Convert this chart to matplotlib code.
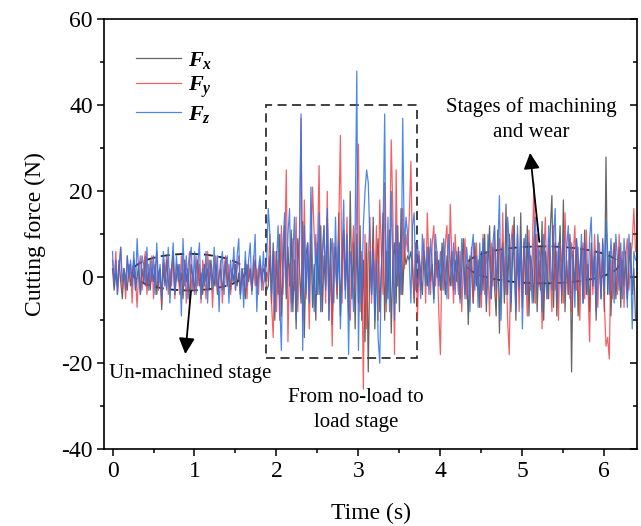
import numpy as np
import matplotlib as mpl
import matplotlib.pyplot as plt
from matplotlib.patches import Rectangle, Ellipse

mpl.use('agg')

plt.rcParams['font.family'] = ['Liberation Serif', 'DejaVu Serif']
plt.rcParams['mathtext.fontset'] = 'custom'
plt.rcParams['mathtext.it'] = 'Liberation Serif:italic:bold'
plt.rcParams['mathtext.rm'] = 'Liberation Serif:bold'
plt.rcParams['axes.unicode_minus'] = False

dt = 0.02

fx = [2, -3, 1, -2, 4, -1, -5, 2, 0, -3, 3, -2, 1, 4, -3, 0, 3, -4, 2, -1, 5, -2, 1, -3, 2,
      -1, 3, -4, 1, 2, -7.5, 3, -2, 4, -1, -3, 2, 5, -4, 0, 3, -2, 1, -5, 4, -1, 2, -6, 3, 0,
      -3, 2, 4, -2, 1, -4, 3, -1, 2, -3, 4, 0, -2, 3, -4, 1, 2, -3, 0, 4, -2, 1, -3, 2, -1,
      3, -2, 1, -4, 2, 0, -5, 3, -1, 2, -3, 1, 4, -2, 0, 3, -1, 2, 1, -3, -2, 5, -6, 8, -10,
      6, -4, 10, -9, 3, 12, -5, 7, -2, 11, -8, 4, -12, 9, 2, -6, 13, -14, 5, 8, -3, 10, -7, 3, -10,
      8, -4, 12, -8, 5, -2, 14, -6, 9, -11, 3, 7, -5, 15, -9, 4, 11, -3, 6, -8, 20, -5, 8, -12, 10,
      -6, 12, -10, 4, -15, 8, -22, 6, -4, 14, -12, 3, 9, -8, 2, 15, -10, 6, -5, 11, -13, 4, 8, -6, 12,
      -8, 16, -4, 6, 3, 5, 4, 6, 2, -6, 8, -3, 5, 1, -4, 6, 2, -2, 7, -1, 3, -5, 6, 0, 4,
      -3, 8, 2, -4, 5, 1, -2, 6, -3, 4, -1, 7, -5, 2, 9, -4, 3, -11, 5, 2, -6, 8, -2, 4, -7,
      6, -3, 10, -8, 3, 12, -5, 7, -2, -9, 11, -13, 4, 8, -6, 17, -4, 10, -8, 5, 14, -10, 6, -3, 15,
      -7, 9, -4, 12, -9, 5, 2, -6, 10, -8, 4, -3, 13, -10, 6, 1, -5, 11, 19, -7, 8, -9, 3, 12, -6,
      18, -8, 4, -4, 10, -22, 6, -3, 9, -9, 2, 7, -6, 11, -4, 3, -8, 8, -2, 5, -10, 6, 2, -5, 9,
      -8, 28, -4, 6, -9, 3, 8, -5, 2, 7, -7, 4, -2, 6, -5, 3, 8, -4, 2, -10]

fy = [4, -2, 6, -4, 1, 7, -3, 2, -5, 5, -1, 3, -6, 4, 0, -7, 2, 5, -3, 1, 6, -4, 3, -2, 5,
      -5, 2, 6, -3, 1, -6, 4, 0, 5, -4, 2, -2, 6, -5, 3, 1, -4, 5, -2, 4, -6, 2, 6, -3, 1,
      -4, 5, -2, 3, -6, 4, 1, -5, 6, -1, 3, -7, 2, 5, -3, 0, 4, -6, 2, 5, -2, 3, -4, 1, 4,
      -3, 2, 5, -4, 1, -2, 4, -5, 3, 0, -3, 5, -2, 2, -4, 4, 1, -3, 3, -1, 2, 10, -6, -14, 6,
      -8, 4, -10, 12, -4, 6, 25, -15, 3, -6, 9, -3, 14, -8, 5, 37, -10, 18, -5, 8, -12, 6, 21, 10, 3,
      6, 26, -8, 4, 12, -6, 20, -10, 3, -16, 8, 2, -4, 12, 33, -6, 10, -2, 14, -8, -10, 5, 12, -3, 18,
      31, -8, 6, -26, 10, -12, 4, 14, -6, 8, -3, 12, -10, 18, 6, -4, 22, -8, 6, 4, 32, 15, -18, 25, -2,
      8, -4, 16, 2, 10, 6, 14, 27, 4, -5, 8, -10, 6, -3, 4, 9, -6, 15, 3, -4, 8, 12, -2, 6, -8,
      -18, 6, -3, 8, 12, -5, 17, 4, -6, 10, 2, -4, 6, -8, 3, 9, -5, 4, 0, 7, -6, 3, 8, -3, 5,
      -7, 10, -4, 6, 2, -9, 8, -2, 12, -5, 3, 9, -6, 15, -3, 5, -10, -18, 8, 12, 4, -6, 10, -8, 6,
      -4, 8, 2, -9, 11, -3, 5, 22, -6, 10, -2, 7, -12, 4, 14, -5, 9, 1, -8, 12, -3, 6, -10, 8, 3,
      -6, 15, 2, -4, 9, -8, 5, 12, -3, 7, -10, 4, 8, -5, 11, -2, -15, 6, -4, 10, 2, -7, 8, -3, 5,
      -6, -16, -14, -19, 4, -5, 8, 2, -4, 10, -2, 6, -7, 5, 9, -3, 4, 8, 16, 6]

fz = [6, -2, 4, -4, 3, 7, -1, 2, -3, 5, 0, 4, -2, 6, -3, 9, 1, -4, 5, 3, -2, 7, -3, 4, -1,
      5, -4, 8, -2, 3, -5, 6, 1, -3, 7, -6, 2, 8, -4, 5, -1, 3, -9, 9, -2, 5, -5, 4, 7, -3,
      6, -4, 3, 8, -5, 2, -2, 6, -6, 4, 1, -3, 7, -2, 5, -8, 3, 6, -4, 2, 5, -6, 4, -1, 7,
      -3, 5, 9, -5, 2, -7, 6, -2, 4, 8, -4, 3, 10, -8, 2, 5, -3, 6, -1, 4, 16, 10, -4, 6, -8,
      3, 12, -6, -17, 8, 15, -4, 10, 16, -8, 6, 14, -10, 5, 9, 38, -17, 12, -4, 8, -6, 21, 2, -8, 10,
      -4, 15, -8, 6, 12, -3, 16, -10, 5, 9, -6, 14, -2, 8, -12, 4, 18, -5, 10, -18, 6, 2, -8, 12, 48,
      -17, 8, -6, 12, 20, 25, 22, 8, -4, 6, -10, 4, -14, -20, 2, 10, 38, -6, 14, -8, 20, 4, -10, 12, -2,
      8, -4, 37, 6, 14, 10, 4, -6, 12, 15, -3, 8, 2, -5, 10, 4, -2, 7, -4, 9, 3, -6, 10, 5, -2,
      6, -3, 9, 2, -5, 10, 4, -2, 8, -4, 6, 1, -6, 9, 3, -5, 7, 2, -8, 6, 10, -3, 5, -7, 8,
      -4, 9, 2, -6, 10, 4, -5, 8, 12, -3, 6, 19, -10, 7, 2, -4, 14, 8, -6, 10, 3, -8, 12, -2, 9,
      -12, 6, 10, -4, 8, 2, -6, 9, 14, -3, 7, 4, -8, 10, 1, -5, 12, 6, -3, 9, 16, -6, 8, 2, -4,
      10, -3, 7, 12, -5, 8, 2, -7, 9, 4, -2, 10, -6, 8, 3, -4, 9, 14, -2, 6, -8, 10, 4, -5, 8,
      -3, 13, 6, -4, 9, 2, -6, 10, 4, -3, 8, -5, 9, 2, -7, 10, 3, -12, 6, 4]

t = np.arange(len(fx)) * dt

fig = plt.figure(figsize=(6.41, 5.26), dpi=100)
ax = fig.add_axes([0.163, 0.146, 0.831, 0.817])

ax.plot(t, fx, color='#4a4a4a', lw=0.9, alpha=0.85, label='$F_x$')
ax.plot(t, fy, color='#f03a3f', lw=0.9, alpha=0.8, label='$F_y$')
ax.plot(t, fz, color='#2e72e6', lw=0.9, alpha=0.85, label='$F_z$')

ax.set_xlim(-0.098, 6.40)
ax.set_ylim(-40, 60)
ax.set_xticks([0, 1, 2, 3, 4, 5, 6])
ax.set_yticks([-40, -20, 0, 20, 40, 60])
ax.set_xticks(np.arange(0.5, 6.4, 1.0), minor=True)
ax.set_yticks(np.arange(-30, 60, 20), minor=True)
ax.tick_params(which='major', direction='out', length=5, width=1.1, labelsize=17, right=True)
ax.tick_params(which='minor', direction='out', length=3, width=1.1, right=True)
for s in ax.spines.values():
    s.set_linewidth(1.2)
# right ticks point inward
for tk in ax.yaxis.get_major_ticks() + ax.yaxis.get_minor_ticks():
    tk.tick2line.set_marker(mpl.markers.TICKLEFT)

ax.set_xlabel('Time (s)', fontsize=17, labelpad=15)
ax.set_ylabel('Cutting force (N)', fontsize=17, labelpad=11)

leg = ax.legend(loc='upper left', bbox_to_anchor=(0.06, 0.93), frameon=False, fontsize=16,
                handlelength=2.0, handletextpad=0.3, labelspacing=0.18, borderpad=0,
                borderaxespad=0)

# annotations
ax.add_patch(Rectangle((1.875, -18.8), 1.835, 59.0, fill=False, ls=(0, (5, 3)), lw=1.3, ec='#333333'))
ax.add_patch(Ellipse((0.93, 1.2), 1.38, 8.5, fill=False, ls=(0, (5, 3)), lw=1.3, ec='#222222'))
ax.add_patch(Ellipse((5.25, 2.9), 1.85, 8.6, fill=False, ls=(0, (5, 3)), lw=1.3, ec='#222222'))

ax.annotate('', xy=(0.885, -18.5), xytext=(0.96, -2.6),
            arrowprops=dict(arrowstyle='-|>', color='black', lw=1.3, mutation_scale=24))
ax.annotate('', xy=(5.09, 29.6), xytext=(5.21, 7.6),
            arrowprops=dict(arrowstyle='-|>', color='black', lw=1.3, mutation_scale=24))

ax.text(0.95, -22.3, 'Un-machined stage', fontsize=15, ha='center', va='center')
ax.text(2.97, -27.9, 'From no-load to', fontsize=15, ha='center', va='center')
ax.text(2.97, -33.9, 'load stage', fontsize=15, ha='center', va='center')
ax.text(5.11, 39.7, 'Stages of machining', fontsize=15, ha='center', va='center')
ax.text(5.11, 33.8, 'and wear', fontsize=15, ha='center', va='center')

fig.savefig('out.png', dpi=100)
